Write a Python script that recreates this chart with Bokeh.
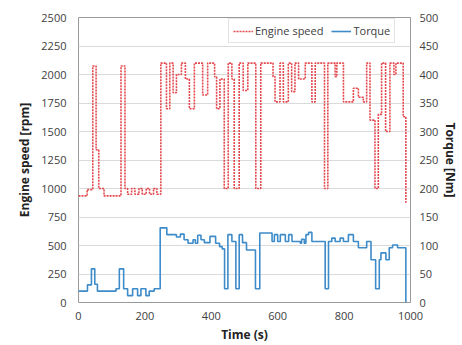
from bokeh.plotting import figure
from bokeh.models import Range1d, LinearAxis, FixedTicker
from bokeh.embed import file_html
from bokeh.resources import INLINE

# ---- data ----
speed_t = [0, 26, 43, 53, 61, 77, 128, 140, 148, 160, 170, 182, 192, 204, 214, 226, 236,
           248, 265, 275, 285, 295, 310, 322, 334, 349, 374, 389, 410, 416, 426, 439, 451,
           462, 469, 484, 496, 510, 534, 549, 586, 592, 607, 617, 632, 642, 652, 663, 683,
           703, 713, 741, 751, 773, 778, 798, 828, 843, 858, 868, 878, 893, 903, 913, 925,
           938, 950, 956, 978, 986]
speed_rpm = [935, 990, 2075, 1340, 1000, 935, 2075, 1000, 950, 1000, 950, 1000, 950, 1000, 950, 1000, 950,
             2100, 1700, 2100, 1840, 2000, 2100, 1960, 1700, 2100, 1820, 2100, 1980, 1700, 1960, 1000, 2100,
             1960, 1000, 2100, 1860, 2100, 1000, 2100, 1980, 1760, 2100, 1760, 2100, 1850, 2100, 1960, 2100,
             1760, 2100, 1000, 2100, 1980, 2100, 1760, 1880, 1800, 1760, 2100, 1600, 1000, 1650, 2100, 1500,
             2100, 2000, 2100, 1630, 875]

torque_t = [0, 27, 39, 49, 57, 113, 123, 136, 148, 163, 178, 188, 203, 213, 228, 246, 266, 295,
            307, 318, 330, 345, 352, 359, 369, 379, 396, 413, 425, 433, 440, 450, 462, 474, 484,
            494, 506, 533, 546, 583, 590, 600, 608, 623, 633, 643, 668, 672, 680, 685, 693, 703,
            743, 753, 763, 773, 788, 798, 813, 828, 843, 868, 881, 895, 906, 911, 926, 936, 946,
            961, 986]
torque_nm = [20, 31, 59, 32, 20, 24, 59, 24, 12, 24, 12, 24, 12, 20, 24, 131, 119, 115,
             120, 110, 104, 110, 104, 118, 110, 105, 116, 104, 98, 94, 24, 119, 107, 24, 119,
             105, 92, 24, 122, 107, 119, 107, 119, 107, 119, 107, 104, 111, 104, 119, 123, 107,
             24, 107, 113, 107, 113, 107, 119, 107, 96, 107, 75, 24, 75, 87, 75, 96, 101,
             96, 0]

time_ticks = [0, 200, 400, 600, 800, 1000]
speed_ticks = [0, 250, 500, 750, 1000, 1250, 1500, 1750, 2000, 2250, 2500]
torque_ticks = [0, 50, 100, 150, 200, 250, 300, 350, 400, 450, 500]

FONT = "Open Sans"
TXT = "#404040"

p = figure(width=462, height=345, output_backend="svg", toolbar_location=None,
           x_range=Range1d(0, 1000), y_range=Range1d(0, 2500))
p.min_border_left = 78
p.min_border_right = 49
p.min_border_top = 17
p.min_border_bottom = 42
p.background_fill_color = "white"
p.border_fill_color = "white"
p.outline_line_color = "#9a9a9a"
p.outline_line_width = 1

p.extra_y_ranges = {"torque": Range1d(0, 500)}

p.step(speed_t, speed_rpm, mode="after", line_color="#e3484e", line_width=1.6,
       line_dash="2 1", legend_label="Engine speed")
p.step(torque_t, torque_nm, mode="after", line_color="#3d8bc9", line_width=1.6,
       y_range_name="torque", legend_label="Torque")

# axes styling
p.xaxis.ticker = FixedTicker(ticks=time_ticks)
p.yaxis.ticker = FixedTicker(ticks=speed_ticks)
p.xaxis.axis_label = "Time (s)"
p.yaxis.axis_label = "Engine speed [rpm]"

right = LinearAxis(y_range_name="torque", axis_label="Torque [Nm]",
                   ticker=FixedTicker(ticks=torque_ticks))
p.add_layout(right, "right")

for ax in [p.xaxis[0], p.yaxis[0], right]:
    ax.axis_line_color = None
    ax.major_tick_line_color = None
    ax.minor_tick_line_color = None
    ax.major_tick_out = 0
    ax.major_tick_in = 0
    ax.major_label_text_font = FONT
    ax.major_label_text_font_size = "11px"
    ax.major_label_text_color = TXT
    ax.axis_label_text_font = FONT
    ax.axis_label_text_font_size = "12px"
    ax.axis_label_text_font_style = "bold"
    ax.axis_label_text_color = "#222222"

p.yaxis[0].major_label_standoff = 12
p.yaxis[0].axis_label_standoff = 5
right.major_label_standoff = 9
right.axis_label_standoff = 1
p.xaxis[0].major_label_standoff = 9
p.xaxis[0].axis_label_standoff = 3

p.xgrid.grid_line_color = None
p.ygrid.grid_line_color = "#dadada"
p.ygrid.grid_line_width = 1

lg = p.legend[0]
lg.orientation = "horizontal"
lg.location = (150, 259)
lg.label_text_font = FONT
lg.label_text_font_size = "11px"
lg.label_text_color = TXT
lg.glyph_width = 20
lg.glyph_height = 10
lg.label_standoff = 2
lg.spacing = 8
lg.padding = 4
lg.margin = 0
lg.border_line_color = "#c8c8c8"
lg.background_fill_color = "white"
lg.background_fill_alpha = 1.0

open("out.html", "w").write(file_html(p, INLINE))
